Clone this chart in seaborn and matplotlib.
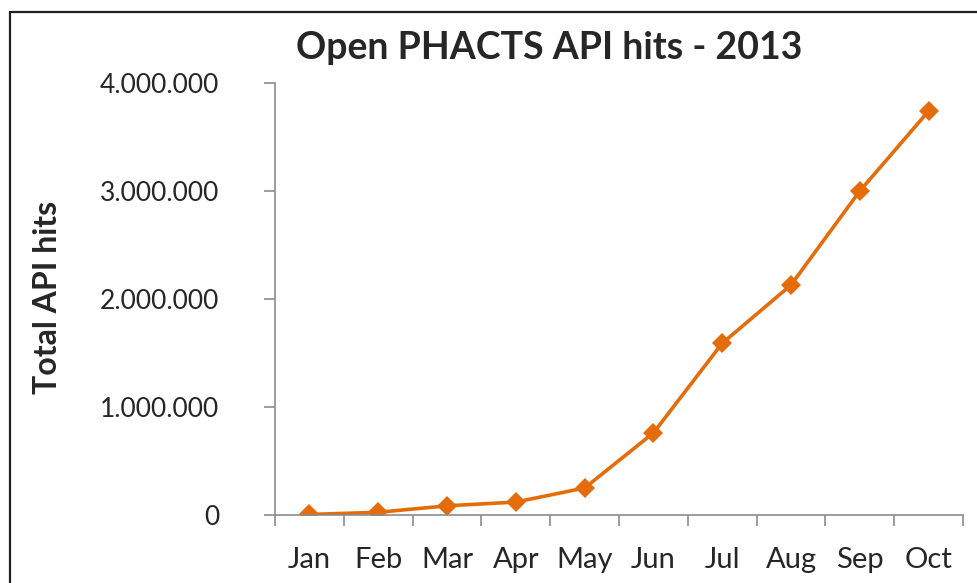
import numpy as np
import pandas as pd
import matplotlib.pyplot as plt
import matplotlib.ticker as mticker
import seaborn as sns

# Data
months = ["Jan", "Feb", "Mar", "Apr", "May", "Jun", "Jul", "Aug", "Sep", "Oct"]
hits = [5000, 25000, 85000, 120000, 250000, 760000, 1590000, 2130000, 3000000, 3740000]

df = pd.DataFrame({"month": months, "hits": hits})

sns.set_style("white")
plt.rcParams['font.family'] = ['Lato', 'DejaVu Sans']

fig = plt.figure(figsize=(9.77, 5.83), dpi=100)
ax = fig.add_axes([275 / 977, 1 - 515 / 583, (963 - 275) / 977, (515 - 83) / 583])

sns.lineplot(data=df, x="month", y="hits", sort=False, color="#E46C0A",
             linewidth=2.6, marker="D", markersize=10, markeredgewidth=0, ax=ax)

ax.set_xlim(-0.5, len(months) - 0.5)
ax.set_ylim(0, 4000000)
ax.set_yticks([0, 1000000, 2000000, 3000000, 4000000])
ax.yaxis.set_major_formatter(mticker.FuncFormatter(lambda v, p: f"{int(v):,}".replace(",", ".")))

# Excel style: tick marks between categories
ax.set_xticks(np.arange(-0.5, len(months)), minor=True)
ax.tick_params(axis="x", which="major", length=0, pad=23, labelsize=21)
ax.tick_params(axis="x", which="minor", length=8, width=1.2, color="#8C8C8C", direction="out", bottom=True)
ax.tick_params(axis="y", length=8, width=1.2, color="#8C8C8C", direction="out", left=True, pad=32, labelsize=19)

for s in ["top", "right"]:
    ax.spines[s].set_visible(False)
for s in ["left", "bottom"]:
    ax.spines[s].set_color("#8C8C8C")
    ax.spines[s].set_linewidth(1.2)

ax.set_xlabel("")
ax.set_ylabel("")
fig.text(48 / 977, 1 - 297 / 583, "Total API hits", rotation=90, ha="center", va="center",
         fontsize=23, fontweight="bold")
fig.text(549 / 977, 1 - 48 / 583, "Open PHACTS API hits - 2013", ha="center", va="center",
         fontsize=27, fontweight="bold")

# chart border
border = plt.Rectangle((9.5 / 977, -0.1), 1.2, 1 - 12.5 / 583 + 0.1, transform=fig.transFigure,
                       fill=False, edgecolor="#222222", linewidth=1.6)
fig.patches.append(border)

fig.savefig("out.png", dpi=100)
